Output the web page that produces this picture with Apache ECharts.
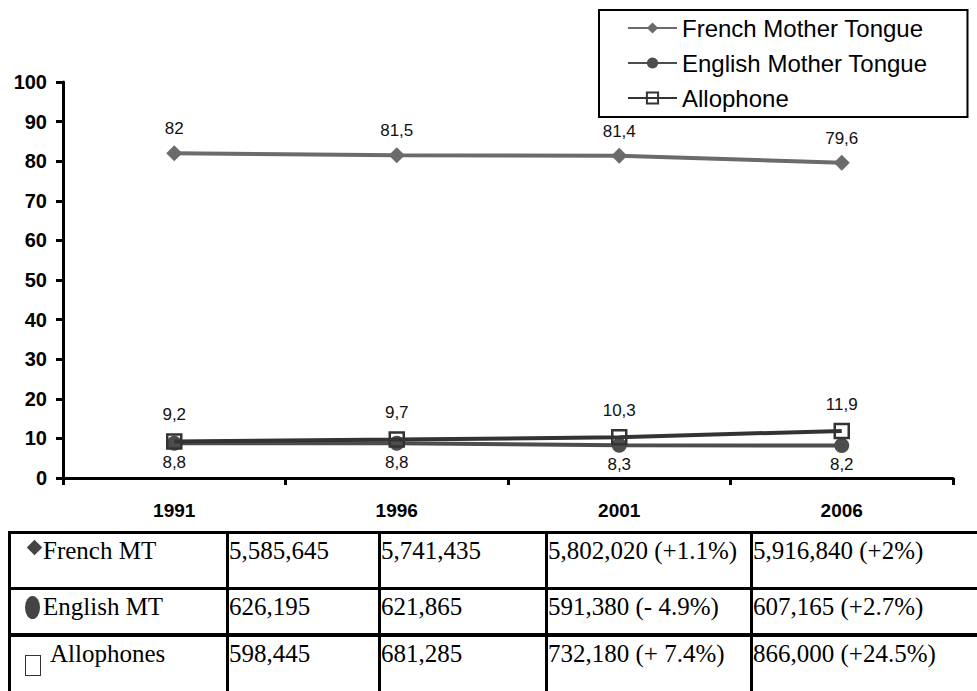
<!DOCTYPE html>
<html>
<head>
<meta charset="utf-8">
<script src="https://cdn.jsdelivr.net/npm/echarts@6/dist/echarts.min.js"></script>
<style>
  html, body { margin: 0; padding: 0; background: #fff; }
  #wrap { position: relative; width: 977px; height: 691px; overflow: hidden; }
  #chart { position: absolute; left: 0; top: 0; width: 977px; height: 691px; }
  #tbl { position: absolute; left: 8px; top: 531px; width: 982px; border-collapse: collapse; table-layout: fixed;
         font-family: "Liberation Serif", "Times New Roman", serif; font-size: 25px; color: #000; }
  #tbl td { border-left: 3px solid #000; border-top: 3px solid #000; vertical-align: top;
            padding: 4px 0 0 0; white-space: nowrap; line-height: 26px; position: relative; overflow: visible; }
  #tbl tr.r2 td { border-top-width: 3px; }
  #tbl tr.r3 td { border-top-width: 4px; }
  .ic { position: absolute; }
</style>
</head>
<body>
<div id="wrap">
<div id="chart"></div>
<table id="tbl"></table>
</div>
<script>
const years = ['1991', '1996', '2001', '2006'];
const frenchPct = [82, 81.5, 81.4, 79.6];
const englishPct = [8.8, 8.8, 8.3, 8.2];
const alloPct = [9.2, 9.7, 10.3, 11.9];
const seriesNames = ['French Mother Tongue', 'English Mother Tongue', 'Allophone'];
const yTicks = [0, 10, 20, 30, 40, 50, 60, 70, 80, 90, 100];

const tableRowLabels = ['French MT', 'English MT', 'Allophones'];
const frenchCounts = ['5,585,645', '5,741,435', '5,802,020 (+1.1%)', '5,916,840 (+2%)'];
const englishCounts = ['626,195', '621,865', '591,380 (- 4.9%)', '607,165 (+2.7%)'];
const alloCounts = ['598,445', '681,285', '732,180 (+ 7.4%)', '866,000 (+24.5%)'];

const SANS = "'Liberation Sans', Arial, sans-serif";
const commaFmt = p => String(p.value).replace('.', ',');
const lblStyle = { fontFamily: SANS, fontSize: 17, color: '#111' };

const chart = echarts.init(document.getElementById('chart'), null, { renderer: 'svg' });
chart.setOption({
  animation: false,
  backgroundColor: '#fff',
  grid: { left: 63, right: 24, top: 82, bottom: 213 },
  legend: {
    orient: 'vertical', left: 599, top: 10,
    padding: [6, 40, 7, 28],
    borderColor: '#000', borderWidth: 2,
    itemWidth: 49, itemHeight: 14, itemGap: 11,
    textStyle: { fontFamily: SANS, fontSize: 24, color: '#000' },
    data: seriesNames
  },
  xAxis: {
    type: 'category', data: years, boundaryGap: true,
    axisLine: { lineStyle: { color: '#000', width: 3 } },
    axisTick: { show: true, length: 7, alignWithLabel: false, lineStyle: { color: '#000', width: 3 } },
    axisLabel: { margin: 23, fontFamily: SANS, fontSize: 19, fontWeight: 'bold', color: '#000' }
  },
  yAxis: {
    type: 'value', min: 0, max: 100, interval: 10,
    axisLine: { show: true, lineStyle: { color: '#000', width: 3 } },
    axisTick: { show: true, length: 7, lineStyle: { color: '#000', width: 3 } },
    splitLine: { show: false },
    axisLabel: { margin: 16, fontFamily: SANS, fontSize: 20, fontWeight: 'bold', color: '#000',
                 formatter: v => yTicks.includes(v) ? String(v) : '' }
  },
  series: [
    {
      name: seriesNames[0], type: 'line', data: frenchPct,
      symbol: 'diamond', symbolSize: 16,
      lineStyle: { color: '#6b6b6b', width: 4 },
      itemStyle: { color: '#6b6b6b' },
      label: Object.assign({ show: true, position: 'top', distance: 8, formatter: commaFmt }, lblStyle),
      z: 2
    },
    {
      name: seriesNames[1], type: 'line', data: englishPct,
      symbol: 'circle', symbolSize: 15,
      lineStyle: { color: '#4d4d4d', width: 4 },
      itemStyle: { color: '#4d4d4d' },
      label: Object.assign({ show: true, position: 'bottom', distance: 3, formatter: commaFmt }, lblStyle),
      z: 2
    },
    {
      name: seriesNames[2], type: 'line', data: alloPct,
      symbol: 'rect', symbolSize: 14,
      lineStyle: { color: '#333', width: 4 },
      itemStyle: { color: 'rgba(255,255,255,0)', borderColor: '#333', borderWidth: 2.5 },
      label: Object.assign({ show: true, position: 'top', distance: 10, formatter: commaFmt }, lblStyle),
      z: 3
    }
  ]
});

// Build the data table below the chart
const icons = [
  '<span class="ic" style="left:18px;top:8px;width:11px;height:11px;background:#444;transform:rotate(45deg);"></span>',
  '<span class="ic" style="left:14px;top:6px;width:15px;height:23px;border-radius:50%;background:#444;"></span>',
  '<span class="ic" style="left:14px;top:18px;width:14px;height:19px;border:1.5px solid #333;"></span>'
];
const labelPad = [32, 32, 39];
const rows = [frenchCounts, englishCounts, alloCounts];
const widths = [218, 152, 167, 205, 240];
const heights = [56, 46, 60];
const tbl = document.getElementById('tbl');
const cg = document.createElement('colgroup');
widths.forEach(w => { const c = document.createElement('col'); c.style.width = w + 'px'; cg.appendChild(c); });
tbl.appendChild(cg);
rows.forEach((r, i) => {
  const tr = document.createElement('tr');
  tr.className = 'r' + (i + 1);
  const cells = [icons[i] + '<span style="padding-left:' + labelPad[i] + 'px">' + tableRowLabels[i] + '</span>'].concat(r);
  cells.forEach((c, j) => {
    const td = document.createElement('td');
    td.style.height = heights[i] + 'px';
    td.style.boxSizing = 'border-box';
    td.innerHTML = c;
    tr.appendChild(td);
  });
  tbl.appendChild(tr);
});
</script>
</body>
</html>
